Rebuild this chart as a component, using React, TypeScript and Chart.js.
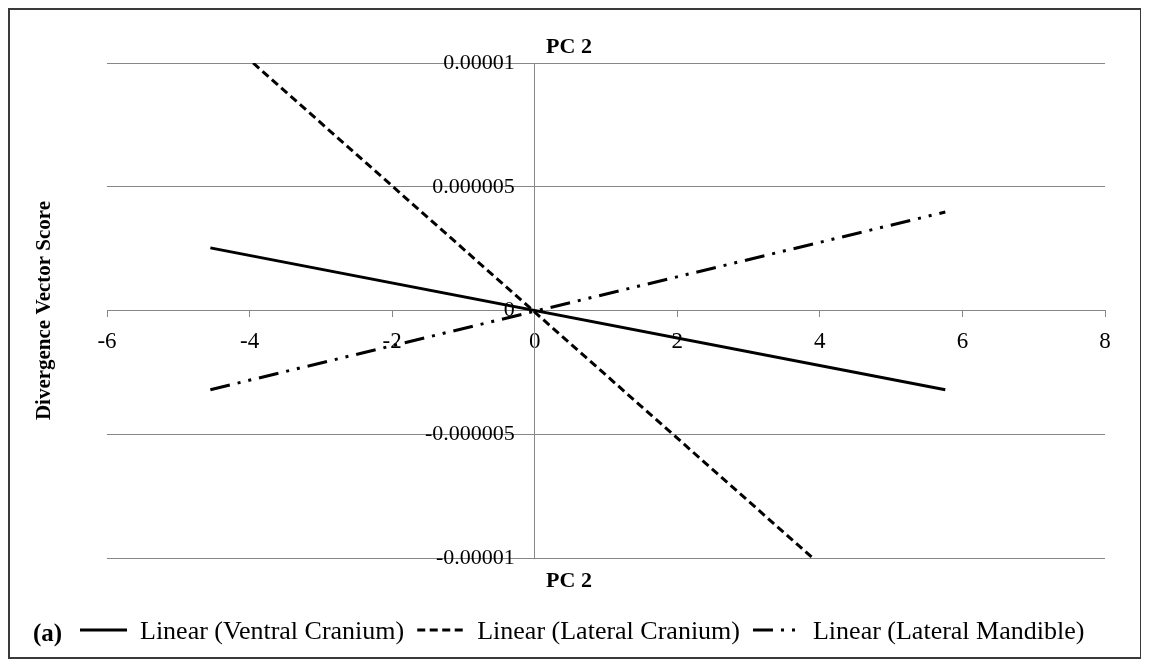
import React, { useEffect, useRef } from "react";
import { Chart, registerables } from "chart.js";

Chart.register(...registerables);

// ---- data ----
const seriesNames = [
  "Linear (Ventral Cranium)",
  "Linear (Lateral Cranium)",
  "Linear (Lateral Mandible)",
];
const ventralX = [-4.55, 5.76];
const ventralY = [0.00000253, -0.0000032];
const lateralCraniumX = [-3.95, 3.9];
const lateralCraniumY = [0.00001, -0.00001];
const mandibleX = [-4.55, 5.76];
const mandibleY = [-0.0000032, 0.00000398];
const xTicks = [-6, -4, -2, 0, 2, 4, 6, 8];
const yTickValues = [0.00001, 0.000005, 0, -0.000005, -0.00001];
const yTickLabels = ["0.00001", "0.000005", "0", "-0.000005", "-0.00001"];
const chartTitle = "PC 2";
const xAxisTitle = "PC 2";
const yAxisTitle = "Divergence Vector Score";
const panelLabel = "(a)";

const FONT = "'Liberation Serif', 'Times New Roman', serif";
const GRID = "#878787";
const dashes: number[][] = [[], [8, 4.5], [20, 8, 3, 8, 3, 8]];

const toPoints = (xs: number[], ys: number[]) => xs.map((x, i) => ({ x, y: ys[i] }));

const yLabelFor = (v: number) => {
  const i = yTickValues.findIndex((t) => Math.abs(t - v) < 1e-12);
  return i >= 0 ? yTickLabels[i] : "";
};

// y tick labels of an axis that crosses at x = 0 (Chart.js ignores tick padding there)
const yLabelPlugin = {
  id: "yCrossLabels",
  afterDraw(chart: any) {
    const ctx = chart.ctx as CanvasRenderingContext2D;
    const ys = chart.scales.y;
    const xs = chart.scales.x;
    const x0 = xs.getPixelForValue(0);
    ctx.save();
    ctx.fillStyle = "#000";
    ctx.font = `22px ${FONT}`;
    ctx.textAlign = "right";
    ctx.textBaseline = "middle";
    ys.ticks.forEach((t: any) => {
      ctx.fillText(yLabelFor(t.value), x0 - 20, ys.getPixelForValue(t.value));
    });
    ctx.restore();
  },
};

const textPlugin = {
  id: "excelText",
  afterDraw(chart: any) {
    const ctx = chart.ctx as CanvasRenderingContext2D;
    const area = chart.chartArea;
    const cx = (area.left + area.right) / 2 - 37;
    ctx.save();
    ctx.fillStyle = "#000";
    ctx.textBaseline = "middle";
    ctx.textAlign = "center";
    ctx.font = `bold 22px ${FONT}`;
    ctx.fillText(chartTitle, cx, area.top - 16);
    ctx.fillText(xAxisTitle, cx, area.bottom + 23);
    ctx.save();
    ctx.font = `bold 21px ${FONT}`;
    ctx.translate(35, (area.top + area.bottom) / 2);
    ctx.rotate(-Math.PI / 2);
    ctx.fillText(yAxisTitle, 0, 0);
    ctx.restore();
    const ly = area.bottom + 72;
    ctx.textAlign = "left";
    ctx.font = `bold 25px ${FONT}`;
    ctx.fillText(panelLabel, 23, ly + 5);
    // legend
    ctx.font = `26px ${FONT}`;
    let x = 70;
    const sample = 47;
    seriesNames.forEach((name, i) => {
      ctx.save();
      ctx.strokeStyle = "#000";
      ctx.lineWidth = 3;
      ctx.setLineDash(dashes[i]);
      ctx.beginPath();
      ctx.moveTo(x, ly);
      ctx.lineTo(x + sample, ly);
      ctx.stroke();
      ctx.restore();
      x += sample + 13;
      ctx.fillText(name, x, ly + 2);
      x += ctx.measureText(name).width + 13;
    });
    ctx.restore();
  },
};

export default function App() {
  const ref = useRef<HTMLCanvasElement | null>(null);
  useEffect(() => {
    if (!ref.current) return;
    const chart = new Chart(ref.current, {
      type: "scatter",
      data: {
        datasets: [
          { label: seriesNames[0], data: toPoints(ventralX, ventralY), borderDash: dashes[0] },
          { label: seriesNames[1], data: toPoints(lateralCraniumX, lateralCraniumY), borderDash: dashes[1] },
          { label: seriesNames[2], data: toPoints(mandibleX, mandibleY), borderDash: dashes[2] },
        ].map((d) => ({
          ...d,
          showLine: true,
          borderColor: "#000",
          backgroundColor: "#000",
          borderWidth: 3,
          pointRadius: 0,
          fill: false,
        })),
      },
      options: {
        animation: false,
        responsive: false,
        maintainAspectRatio: false,
        layout: { padding: { left: 97, right: 35, top: 53, bottom: 99 } },
        plugins: { legend: { display: false }, title: { display: false }, tooltip: { enabled: false } },
        scales: {
          x: {
            type: "linear",
            min: xTicks[0],
            max: xTicks[xTicks.length - 1],
            position: { y: 0 },
            afterBuildTicks: (s: any) => { s.ticks = xTicks.map((v) => ({ value: v })); },
            afterFit: (s: any) => { s.height = 0; },
            grid: { drawOnChartArea: false, drawTicks: true, tickLength: 6, color: GRID, lineWidth: 1 },
            border: { display: true, color: GRID, width: 1 },
            ticks: { color: "#000", font: { family: FONT, size: 23 }, padding: 12, maxRotation: 0, callback: (v: any) => String(v) },
          },
          y: {
            type: "linear",
            min: yTickValues[yTickValues.length - 1],
            max: yTickValues[0],
            position: { x: 0 },
            afterBuildTicks: (s: any) => { s.ticks = yTickValues.map((v) => ({ value: v })); },
            afterFit: (s: any) => { s.width = 0; },
            grid: { drawTicks: false, tickLength: 0, color: GRID, lineWidth: 1 },
            border: { display: true, color: GRID, width: 1 },
            ticks: { display: false, callback: (v: any) => yLabelFor(v) },
          },
        },
      },
      plugins: [yLabelPlugin, textPlugin],
    } as any);
    return () => chart.destroy();
  }, []);
  return (
    <div style={{ position: "relative", width: 1134, height: 651, border: "2px solid #3a3a3a", boxSizing: "border-box", background: "#fff" }}>
      <canvas ref={ref} width={1130} height={647} style={{ display: "block", width: 1130, height: 647 }} />
    </div>
  );
}
